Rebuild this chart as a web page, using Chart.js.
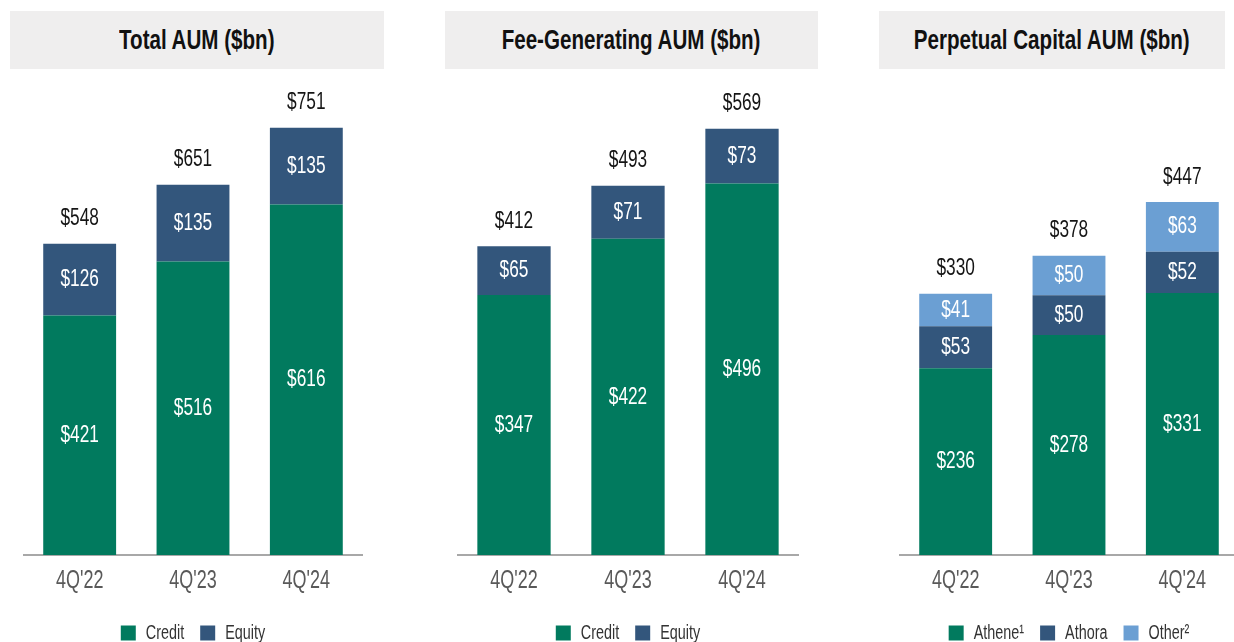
<!DOCTYPE html>
<html>
<head>
<meta charset="utf-8">
<script src="https://cdn.jsdelivr.net/npm/chart.js@4.4.1/dist/chart.umd.min.js"></script>
<style>
  html, body { margin: 0; padding: 0; background: #fff; width: 1234px; height: 642px; overflow: hidden; }
  .title { position: absolute; top: 11px; height: 58px; background: #efeeee; display: flex; align-items: center; justify-content: center;
           font-family: "Liberation Sans", Arial, sans-serif; font-weight: bold; font-size: 28px; color: #111; }
  .title span { display: inline-block; transform: scaleX(0.735); white-space: nowrap; }
  .wrap { position: absolute; top: 80px; height: 573px; }
</style>
</head>
<body>
<div class="title" style="left:10px;width:374px;"><span>Total AUM ($bn)</span></div>
<div class="title" style="left:445px;width:373px;"><span>Fee-Generating AUM ($bn)</span></div>
<div class="title" style="left:879px;width:346px;"><span>Perpetual Capital AUM ($bn)</span></div>
<div class="wrap" style="left:23px;width:340px;"><canvas id="c1"></canvas></div>
<div class="wrap" style="left:457px;width:342px;"><canvas id="c2"></canvas></div>
<div class="wrap" style="left:899px;width:340px;"><canvas id="c3"></canvas></div>
<script>
const categories = ["4Q'22", "4Q'23", "4Q'24"];

// Total AUM
const totalCredit = [421, 516, 616];
const totalEquity = [126, 135, 135];
const totalSum = [548, 651, 751];

// Fee-Generating AUM
const feeCredit = [347, 422, 496];
const feeEquity = [65, 71, 73];
const feeSum = [412, 493, 569];

// Perpetual Capital AUM
const perpAthene = [236, 278, 331];
const perpAthora = [53, 50, 52];
const perpOther = [41, 50, 63];
const perpSum = [330, 378, 447];

const GREEN = '#017a5e';
const NAVY = '#33567c';
const LIGHT = '#6b9fd3';
const FONT = '"Liberation Sans", Arial, sans-serif';
const SX = 0.72; // horizontal condensing of canvas text (narrow typeface look)

function condense(canvas) {
  const ctx = canvas.getContext('2d');
  const pf = CanvasRenderingContext2D.prototype.fillText;
  const pm = CanvasRenderingContext2D.prototype.measureText;
  ctx.fillText = function (t, x, y, mw) {
    this.save();
    this.scale(SX, 1);
    pf.call(this, t, x / SX, y);
    this.restore();
  };
  ctx.measureText = function (t) {
    const m = pm.call(this, t);
    return {
      width: m.width * SX,
      actualBoundingBoxLeft: m.actualBoundingBoxLeft * SX,
      actualBoundingBoxRight: m.actualBoundingBoxRight * SX,
      actualBoundingBoxAscent: m.actualBoundingBoxAscent,
      actualBoundingBoxDescent: m.actualBoundingBoxDescent,
      fontBoundingBoxAscent: m.fontBoundingBoxAscent,
      fontBoundingBoxDescent: m.fontBoundingBoxDescent
    };
  };
  return canvas;
}

const labelPlugin = {
  id: 'barLabels',
  afterDatasetsDraw(chart, args, opts) {
    const ctx = chart.ctx;
    ctx.save();
    ctx.textAlign = 'center';
    ctx.textBaseline = 'middle';
    const n = chart.data.datasets.length;
    chart.data.datasets.forEach((ds, di) => {
      const meta = chart.getDatasetMeta(di);
      meta.data.forEach((el, i) => {
        ctx.font = '24px ' + FONT;
        ctx.fillStyle = '#ffffff';
        ctx.fillText('$' + ds.data[i], el.x, (el.y + el.base) / 2);
        if (di === n - 1) {
          ctx.fillStyle = '#151515';
          ctx.fillText('$' + opts.totals[i], el.x, el.y - 25);
        }
      });
    });
    ctx.restore();
  }
};

function makeChart(id, datasets, totals, yMax) {
  new Chart(condense(document.getElementById(id)), {
    type: 'bar',
    data: {
      labels: categories,
      datasets: datasets.map(d => ({
        label: d.label, data: d.data, backgroundColor: d.color,
        barPercentage: 0.643, categoryPercentage: 1.0, borderWidth: 0
      }))
    },
    options: {
      responsive: true,
      maintainAspectRatio: false,
      animation: false,
      layout: { padding: 0 },
      scales: {
        x: {
          stacked: true,
          grid: { display: false, drawTicks: false },
          border: { display: true, color: '#a8a8a8', width: 2 },
          ticks: { color: '#595959', font: { family: FONT, size: 25 }, padding: 11 }
        },
        y: {
          stacked: true, display: false, min: 0, max: yMax
        }
      },
      plugins: {
        legend: {
          position: 'bottom',
          labels: {
            boxWidth: 15, boxHeight: 15, padding: 16,
            color: '#333333', font: { family: FONT, size: 20 }
          }
        },
        tooltip: { enabled: false },
        barLabels: { totals: totals }
      }
    },
    plugins: [labelPlugin]
  });
}

makeChart('c1', [
  { label: 'Credit', data: totalCredit, color: GREEN },
  { label: 'Equity', data: totalEquity, color: NAVY }
], totalSum, 835);

makeChart('c2', [
  { label: 'Credit', data: feeCredit, color: GREEN },
  { label: 'Equity', data: feeEquity, color: NAVY }
], feeSum, 634);

makeChart('c3', [
  { label: 'Athene\u00b9', data: perpAthene, color: GREEN },
  { label: 'Athora', data: perpAthora, color: NAVY },
  { label: 'Other\u00b2', data: perpOther, color: LIGHT }
], perpSum, 600);
</script>
</body>
</html>
